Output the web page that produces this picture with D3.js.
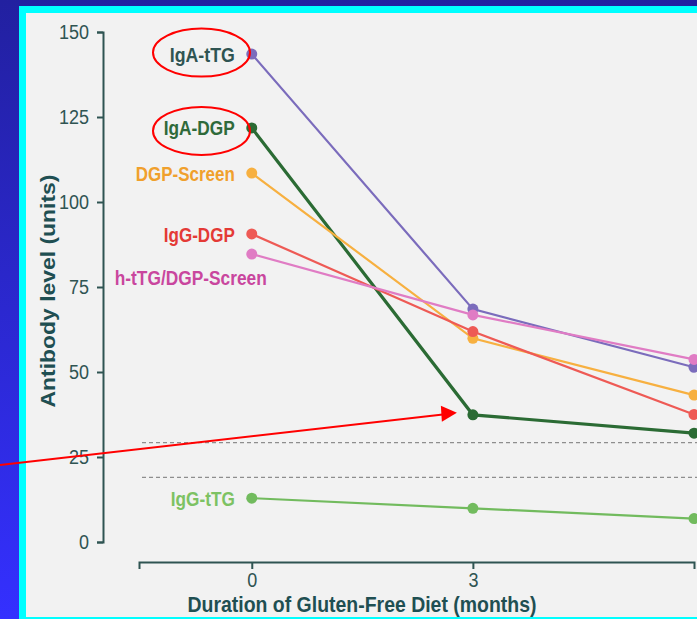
<!DOCTYPE html>
<html><head><meta charset="utf-8">
<script src="https://cdn.jsdelivr.net/npm/d3@7"></script>
<style>
html,body{margin:0;padding:0;overflow:hidden;background:#2a26c8;}
svg{display:block;}
</style></head>
<body>
<svg id="chart" width="697" height="619"></svg>
<script>
const months = [0, 3, 6];
const seriesNames = ["IgA-tTG", "IgA-DGP", "DGP-Screen", "IgG-DGP", "h-tTG/DGP-Screen", "IgG-tTG"];
const igaTtg   = [143.5, 68.5, 51.4];
const igaDgp   = [121.8, 37.4, 32.0];
const dgpScreen= [108.5, 59.9, 43.2];
const iggDgp   = [90.6, 61.9, 37.5];
const htTgDgp  = [84.7, 66.8, 53.7];
const iggTtg   = [12.9, 9.9, 6.9];
const yTicks = [0, 25, 50, 75, 100, 125, 150];
const xTicks = [0, 3];
const cutoffs = [29.2, 19.0];
const lineColors  = ["#7b6cbc", "#2b6b34", "#f7b040", "#ee5a55", "#e07cc4", "#72bb5e"];
const labelColors = ["#2f5452", "#2f6a3a", "#f0a02c", "#e43a36", "#c9469e", "#7dc263"];
const labelWidths = [65, 71, 99, 71, 152, 64];
const labelDx     = [0, 0, 0, 0, 32, 0];
const labelDy     = [0, 0, 0, 0, 23, 0];
const seriesValues = [igaTtg, igaDgp, dgpScreen, iggDgp, htTgDgp, iggTtg];

const svg = d3.select("#chart");
const defs = svg.append("defs");
const grad = defs.append("linearGradient").attr("id","bg").attr("x1",0).attr("y1",0).attr("x2",0).attr("y2",1);
grad.append("stop").attr("offset","0%").attr("stop-color","#2220a0");
grad.append("stop").attr("offset","100%").attr("stop-color","#3430ff");
svg.append("rect").attr("width",697).attr("height",619).attr("fill","url(#bg)");
svg.append("rect").attr("x",19).attr("y",6).attr("width",700).attr("height",613).attr("fill","#00ffff");
svg.append("rect").attr("x",26).attr("y",13).attr("width",680).attr("height",604).attr("fill","#f2f2f2");

const axisColor = "#2f5452";
const font = "'Liberation Sans',Arial,sans-serif";

const x = d3.scaleLinear().domain([-1.53, 6]).range([139, 694]);
const y = d3.scaleLinear().domain([0, 150]).range([542, 32]);

// cutoff dashed lines
svg.selectAll(".cut").data(cutoffs).enter().append("line")
  .attr("x1", 142).attr("x2", 697)
  .attr("y1", d => y(d)).attr("y2", d => y(d))
  .attr("stroke", "#8e8e8e").attr("stroke-width", 1.3).attr("stroke-dasharray", "4,3");

// y axis
const gy = svg.append("g").attr("transform","translate(103,0)")
  .call(d3.axisLeft(y).tickValues(yTicks).tickSize(6).tickPadding(8));
gy.selectAll("path,line").attr("stroke", axisColor).attr("stroke-width", 2);
gy.selectAll("text").attr("fill", axisColor).style("font-family", font).style("font-size","20px")
  .attr("textLength", d => String(d).length * 10).attr("lengthAdjust","spacingAndGlyphs");

// x axis
const gx = svg.append("g").attr("transform","translate(0,562)")
  .call(d3.axisBottom(x).tickValues(xTicks).tickSize(7).tickSizeOuter(7).tickPadding(4));
gx.selectAll("path,line").attr("stroke", axisColor).attr("stroke-width", 2);
gx.selectAll("text").attr("fill", axisColor).style("font-family", font).style("font-size","20px")
  .attr("textLength", 10).attr("lengthAdjust","spacingAndGlyphs");

// axis titles
svg.append("text").attr("x", 362).attr("y", 612).attr("text-anchor","middle")
  .attr("fill", "#1f4f52").style("font-family", font).style("font-size","22px").style("font-weight","bold")
  .attr("textLength", 349).attr("lengthAdjust","spacingAndGlyphs")
  .text("Duration of Gluten-Free Diet (months)");
svg.append("text").attr("transform","translate(55,291) rotate(-90)").attr("text-anchor","middle")
  .attr("fill", "#1f4f52").style("font-family", font).style("font-size","21px").style("font-weight","bold")
  .attr("textLength", 233).attr("lengthAdjust","spacingAndGlyphs")
  .text("Antibody level (units)");

// series
const line = d3.line().x((d,i) => x(months[i])).y(d => y(d));
seriesValues.forEach((vals, s) => {
  const g = svg.append("g");
  g.append("path").datum(vals).attr("d", line).attr("fill","none")
    .attr("stroke", lineColors[s]).attr("stroke-width", s === 1 ? 3.2 : 2.2);
  g.selectAll("circle").data(vals).enter().append("circle")
    .attr("cx", (d,i) => x(months[i])).attr("cy", d => y(d)).attr("r", 5.5)
    .attr("fill", lineColors[s]);
  g.append("text").attr("x", x(0) - 17 + labelDx[s]).attr("y", y(vals[0]) + labelDy[s]).attr("dy","0.36em")
    .attr("text-anchor","end").attr("fill", labelColors[s])
    .style("font-family", font).style("font-size","21px").style("font-weight","bold")
    .attr("textLength", labelWidths[s]).attr("lengthAdjust","spacingAndGlyphs")
    .text(seriesNames[s]);
});

// annotations
const ellipseDy = [-1.5, 3];
[ "IgA-tTG", "IgA-DGP" ].forEach((name, k) => {
  const s = seriesNames.indexOf(name);
  svg.append("ellipse").attr("cx", 201.5).attr("cy", y(seriesValues[s][0]) + ellipseDy[k])
    .attr("rx", 48.5).attr("ry", 24).attr("fill","none").attr("stroke","#ff0000").attr("stroke-width",2);
});
const tipX = x(3) - 16, tipY = y(igaDgp[1]) - 2;
svg.append("line").attr("x1", 0).attr("y1", 465).attr("x2", tipX - 14).attr("y2", tipY + 1.6)
  .attr("stroke","#ff0000").attr("stroke-width",2);
svg.append("path").attr("d", `M${tipX},${tipY} L${tipX-16},${tipY-7} L${tipX-15},${tipY+9} Z`).attr("fill","#ff0000");
</script>
</body></html>
